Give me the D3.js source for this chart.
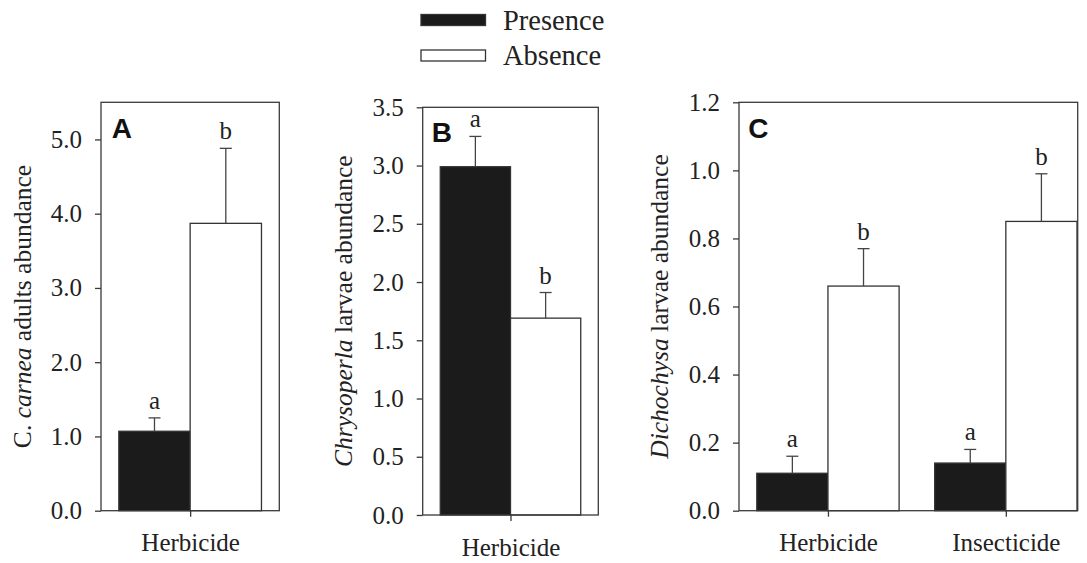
<!DOCTYPE html>
<html>
<head>
<meta charset="utf-8">
<script src="https://cdn.jsdelivr.net/npm/d3@7"></script>
<style>
  html, body { margin: 0; padding: 0; background: #fff; }
  svg { display: block; }
</style>
</head>
<body>
<svg id="chart" width="1087" height="563"></svg>
<script>
// Series names shown in the legend
const seriesNames = ["Presence", "Absence"];

// Panel A: C. carnea adults
const categoriesA = ["Herbicide"];
const presenceA = [1.07];
const absenceA = [3.87];
const presenceSeA = [0.18];
const absenceSeA = [1.01];
const lettersPresenceA = ["a"];
const lettersAbsenceA = ["b"];
const yTicksA = [0, 1, 2, 3, 4, 5];
const yMaxA = 5.5;

// Panel B: Chrysoperla larvae
const categoriesB = ["Herbicide"];
const presenceB = [2.99];
const absenceB = [1.69];
const presenceSeB = [0.26];
const absenceSeB = [0.22];
const lettersPresenceB = ["a"];
const lettersAbsenceB = ["b"];
const yTicksB = [0, 0.5, 1, 1.5, 2, 2.5, 3, 3.5];
const yMaxB = 3.5;

// Panel C: Dichochysa larvae
const categoriesC = ["Herbicide", "Insecticide"];
const presenceC = [0.11, 0.14];
const absenceC = [0.66, 0.85];
const presenceSeC = [0.05, 0.04];
const absenceSeC = [0.11, 0.14];
const lettersPresenceC = ["a", "a"];
const lettersAbsenceC = ["b", "b"];
const yTicksC = [0, 0.2, 0.4, 0.6, 0.8, 1.0, 1.2];
const yMaxC = 1.2;

const panels = [
  { tag: "A", italic: "C. carnea", rest: " adults abundance",
    categories: categoriesA, presence: presenceA, absence: absenceA,
    presenceSe: presenceSeA, absenceSe: absenceSeA,
    lettersP: lettersPresenceA, lettersA: lettersAbsenceA,
    ticks: yTicksA, yMax: yMaxA,
    box: { left: 101, right: 279.3, top: 102.3, bottom: 510.7 }, xMax: 0.5, titleX: 31 },
  { tag: "B", italic: "Chrysoperla", rest: " larvae abundance",
    categories: categoriesB, presence: presenceB, absence: absenceB,
    presenceSe: presenceSeB, absenceSe: absenceSeB,
    lettersP: lettersPresenceB, lettersA: lettersAbsenceB,
    ticks: yTicksB, yMax: yMaxB,
    box: { left: 422.7, right: 598.3, top: 107.3, bottom: 515 }, xMax: 0.5, titleX: 352 },
  { tag: "C", italic: "Dichochysa", rest: " larvae abundance",
    categories: categoriesC, presence: presenceC, absence: absenceC,
    presenceSe: presenceSeC, absenceSe: absenceSeC,
    lettersP: lettersPresenceC, lettersA: lettersAbsenceC,
    ticks: yTicksC, yMax: yMaxC,
    box: { left: 739, right: 1077.7, top: 102.3, bottom: 510.7 }, xMax: 1.404, titleX: 668 }
];

const serif = '"Liberation Serif", "Times New Roman", serif';
const sans = '"Liberation Sans", Arial, sans-serif';
const ink = "#333";
const barFrac = 0.4;      // width of one bar as a fraction of the group step
const capHalf = 6;        // half width of the error-bar caps

const svg = d3.select("#chart");

panels.forEach(p => {
  const g = svg.append("g");
  const x = d3.scaleLinear().domain([-0.5, p.xMax]).range([p.box.left, p.box.right]);
  const y = d3.scaleLinear().domain([0, p.yMax]).range([p.box.bottom, p.box.top]);
  const step = x(1) - x(0);
  const bw = step * barFrac;

  const rows = p.categories.map((c, i) => ({
    i, presence: p.presence[i], absence: p.absence[i],
    pse: p.presenceSe[i], ase: p.absenceSe[i],
    lp: p.lettersP[i], la: p.lettersA[i]
  }));

  const series = [
    { key: "presence", se: "pse", lab: "lp", fill: "#1b1b1b", off: -1 },
    { key: "absence", se: "ase", lab: "la", fill: "#ffffff", off: 0 }
  ];
  series.forEach(s => {
    const cx = d => x(d.i) + s.off * bw + bw / 2;
    g.selectAll(null).data(rows).join("rect")
      .attr("x", d => x(d.i) + s.off * bw)
      .attr("width", bw)
      .attr("y", d => y(d[s.key]))
      .attr("height", d => y(0) - y(d[s.key]))
      .attr("fill", s.fill)
      .attr("stroke", ink)
      .attr("stroke-width", 1.3);

    // error bars (upper only)
    g.selectAll(null).data(rows).join("line")
      .attr("x1", cx).attr("x2", cx)
      .attr("y1", d => y(d[s.key])).attr("y2", d => y(d[s.key] + d[s.se]))
      .attr("stroke", "#444").attr("stroke-width", 1.3);
    g.selectAll(null).data(rows).join("line")
      .attr("x1", d => cx(d) - capHalf).attr("x2", d => cx(d) + capHalf)
      .attr("y1", d => y(d[s.key] + d[s.se])).attr("y2", d => y(d[s.key] + d[s.se]))
      .attr("stroke", "#444").attr("stroke-width", 1.3);

    // significance letters
    g.selectAll(null).data(rows).join("text")
      .attr("x", cx)
      .attr("y", d => y(d[s.key] + d[s.se]) - 9)
      .attr("text-anchor", "middle")
      .attr("font-family", serif)
      .attr("font-size", 25)
      .attr("fill", "#222")
      .text(d => d[s.lab]);
  });

  // frame
  g.append("rect")
    .attr("x", p.box.left).attr("y", p.box.top)
    .attr("width", p.box.right - p.box.left)
    .attr("height", p.box.bottom - p.box.top)
    .attr("fill", "none").attr("stroke", "#3a3a3a").attr("stroke-width", 1.3);

  // y axis
  const ya = g.append("g")
    .attr("transform", `translate(${p.box.left},0)`)
    .call(d3.axisLeft(y).tickValues(p.ticks).tickFormat(d3.format(".1f"))
      .tickSizeInner(6).tickSizeOuter(0).tickPadding(13));
  ya.select(".domain").remove();
  ya.selectAll(".tick line").attr("stroke", "#3a3a3a").attr("stroke-width", 1.3);
  ya.selectAll(".tick text").attr("font-family", serif).attr("font-size", 25).attr("fill", "#222");

  // x axis
  const xa = g.append("g")
    .attr("transform", `translate(0,${p.box.bottom})`)
    .call(d3.axisBottom(x).tickValues(p.categories.map((c, i) => i))
      .tickFormat(i => p.categories[i]).tickSizeInner(6).tickSizeOuter(0).tickPadding(17));
  xa.select(".domain").remove();
  xa.selectAll(".tick line").attr("stroke", "#3a3a3a").attr("stroke-width", 1.3);
  xa.selectAll(".tick text").attr("font-family", serif).attr("font-size", 25).attr("fill", "#222");

  // panel letter
  g.append("text")
    .attr("x", p.box.left + (p.tag === "A" ? 10.7 : p.tag === "B" ? 9 : 9.3))
    .attr("y", p.box.top + (p.tag === "B" ? 34.4 : 35.5))
    .attr("font-family", sans).attr("font-weight", "bold")
    .attr("font-size", 28).attr("fill", "#111")
    .text(p.tag);

  // y-axis title with italic taxon name
  const cy = (p.box.top + p.box.bottom) / 2;
  const t = g.append("text")
    .attr("transform", `translate(${p.titleX},${cy}) rotate(-90)`)
    .attr("text-anchor", "middle")
    .attr("font-family", serif).attr("font-size", 25.5).attr("fill", "#222");
  if (p.tag === "A") {
    t.append("tspan").text("C. ");
    t.append("tspan").attr("font-style", "italic").text("carnea");
  } else {
    t.append("tspan").attr("font-style", "italic").text(p.italic);
  }
  t.append("tspan").text(p.rest);
});

// legend
const legend = svg.append("g");
const legendColor = d3.scaleOrdinal().domain(seriesNames).range(["#1b1b1b", "#ffffff"]);
const ly = d3.scalePoint().domain(seriesNames).range([20, 55.5]);
seriesNames.forEach(name => {
  legend.append("rect")
    .attr("x", 421).attr("y", ly(name) - 5.5)
    .attr("width", 64.5).attr("height", 11)
    .attr("fill", legendColor(name)).attr("stroke", ink).attr("stroke-width", 1.3);
  legend.append("text")
    .attr("x", 503).attr("y", ly(name) + 9.5)
    .attr("font-family", serif).attr("font-size", 28.5).attr("fill", "#222")
    .text(name);
});
</script>
</body>
</html>
